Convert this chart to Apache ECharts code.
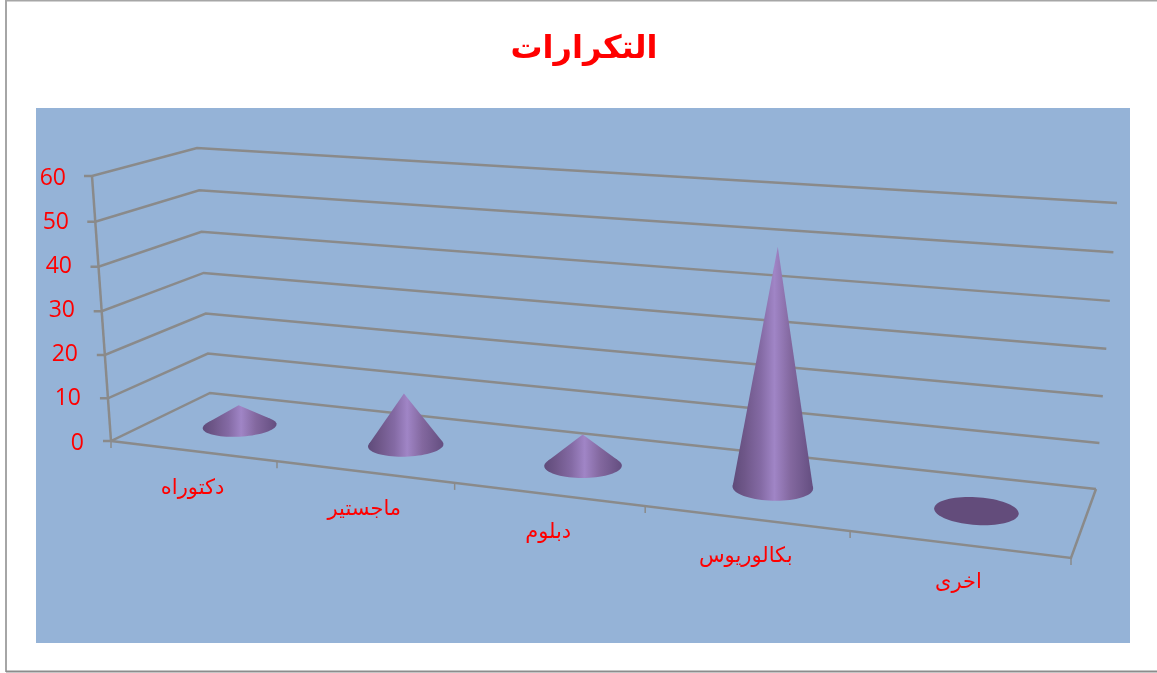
<!DOCTYPE html>
<html>
<head>
<meta charset="utf-8">
<style>html,body{margin:0;padding:0;background:#fff}#chart{width:1157px;height:673px}</style>
<script src="https://cdn.jsdelivr.net/npm/echarts@6/dist/echarts.min.js"></script>
</head>
<body>
<div id="chart"></div>
<script>
// Chart content
const chartTitle = 'التكرارات';
const categories = ['دكتوراه', 'ماجستير', 'دبلوم', 'بكالوريوس', 'اخرى'];
const frequencies = [5, 12, 7, 51, 0];
const valueTicks = [0, 10, 20, 30, 40, 50, 60];

// Scene box: corners of the floor and of the top plane, ordered front-left, front-right, back-right, back-left
const FLOOR = [[111, 441], [1071, 558], [1096, 489], [210, 393]];
const TOP = [[92, 176], [1100, 245], [1117, 203], [197, 148]];
const GRID = { left: 111, top: 176, width: 960, height: 265 };

const RED = '#ff0000';
const LINE = '#8a8a8a';
const ARABIC_FONT = '"DejaVu Sans", sans-serif';
const NUMBER_FONT = '"Open Sans", sans-serif';

// Square-to-quadrilateral homography
function homography(q) {
  const [p0, p1, p2, p3] = q;
  const dx1 = p1[0] - p2[0], dx2 = p3[0] - p2[0], sx = p0[0] - p1[0] + p2[0] - p3[0];
  const dy1 = p1[1] - p2[1], dy2 = p3[1] - p2[1], sy = p0[1] - p1[1] + p2[1] - p3[1];
  const den = dx1 * dy2 - dx2 * dy1;
  const g = (sx * dy2 - dx2 * sy) / den;
  const h = (dx1 * sy - sx * dy1) / den;
  return (u, d) => {
    const w = g * u + h * d + 1;
    return [
      ((p1[0] - p0[0] + g * p1[0]) * u + (p3[0] - p0[0] + h * p3[0]) * d + p0[0]) / w,
      ((p1[1] - p0[1] + g * p1[1]) * u + (p3[1] - p0[1] + h * p3[1]) * d + p0[1]) / w
    ];
  };
}
const floorMap = homography(FLOOR);
const topMap = homography(TOP);

// u: along the categories, d: front to back, v: 0 floor to 1 top.
// The small bends ease the foreshortening along the width and the height of the box.
function project(u, d, v) {
  const uu = u + 0.021 * u * (1 - u);
  const vv = v - 0.04 * v * (1 - v);
  const a = floorMap(uu, d), b = topMap(uu, d);
  return [a[0] + (b[0] - a[0]) * vv, a[1] + (b[1] - a[1]) * vv];
}
// Plain grid position from the axes, expressed as box fractions
function toBox(pt) {
  return {
    u: (pt[0] - GRID.left) / GRID.width,
    v: (GRID.top + GRID.height - pt[1]) / GRID.height
  };
}

function line(points, width) {
  return {
    type: 'polyline',
    shape: { points },
    style: { stroke: LINE, lineWidth: width || 2.5, fill: null }
  };
}

function renderGridLine(params, api) {
  const { v } = toBox(api.coord([0, api.value(0)]));
  const front = project(0, 0, v);
  return {
    type: 'group',
    children: [
      line([[front[0] - 8, front[1]], front, project(0, 1, v), project(1, 1, v)])
    ]
  };
}

function renderFrame(params, api) {
  const children = [
    line([project(0, 0, 1), project(0, 0, 0)]),
    line([project(0, 0, 0), project(1, 0, 0), project(1, 1, 0)])
  ];
  for (let i = 0; i <= categories.length; i++) {
    const p = project(i / categories.length, 0, 0);
    children.push(line([p, [p[0], p[1] + 7]], 1.5));
  }
  return { type: 'group', children };
}

function renderCone(params, api) {
  const { u, v } = toBox(api.coord([api.value(0), api.value(1)]));
  const ring = [];
  for (let i = 0; i < 72; i++) {
    const t = i / 72 * Math.PI * 2;
    ring.push(project(u + 0.0395 * Math.cos(t), 0.48 + 0.2 * Math.sin(t), 0));
  }
  const xs = ring.map(p => p[0]);
  const minX = Math.min(...xs), maxX = Math.max(...xs);
  if (v <= 0) {
    return { type: 'polygon', shape: { points: ring }, style: { fill: '#634C7B' } };
  }
  const fill = new echarts.graphic.LinearGradient(minX, 0, maxX, 0, [
    { offset: 0, color: '#5f4b7a' },
    { offset: 0.15, color: '#6f5789' },
    { offset: 0.35, color: '#846aa4' },
    { offset: 0.52, color: '#a085c6' },
    { offset: 0.72, color: '#83689f' },
    { offset: 1, color: '#644e80' }
  ], true);
  const tip = project(u, 0.48, v);
  // Silhouette: tip joined to the two ring points at the extreme bearings seen from it
  const bearing = p => Math.atan2(p[0] - tip[0], p[1] - tip[1]);
  let left = ring[0], right = ring[0];
  ring.forEach(p => {
    if (bearing(p) < bearing(left)) left = p;
    if (bearing(p) > bearing(right)) right = p;
  });
  return {
    type: 'group',
    children: [
      { type: 'polygon', shape: { points: ring }, style: { fill } },
      { type: 'polygon', shape: { points: [tip, left, right] }, style: { fill } }
    ]
  };
}

function renderCategoryLabel(params, api) {
  const { u } = toBox(api.coord([api.value(0), 0]));
  const p = project(u, 0, 0);
  return {
    type: 'text',
    style: {
      x: p[0],
      y: p[1] + 38,
      text: categories[api.value(0)],
      fill: RED,
      font: '21px ' + ARABIC_FONT,
      align: 'center',
      verticalAlign: 'middle'
    }
  };
}

// The value labels step leftwards with the slanted axis
const labelRich = {};
valueTicks.forEach(t => {
  labelRich['t' + t] = {
    color: RED,
    fontFamily: NUMBER_FONT,
    fontSize: 23,
    padding: [4, t * 0.3, 0, 0]
  };
});

const categoryRows = categories.map((c, i) => [i]);

const option = {
  animation: false,
  backgroundColor: '#ffffff',
  title: {
    text: chartTitle,
    left: 579,
    top: 29,
    textAlign: 'center',
    textStyle: { color: RED, fontFamily: ARABIC_FONT, fontWeight: 'bold', fontSize: 32 }
  },
  graphic: [
    { type: 'rect', z: -10, shape: { x: 36, y: 108, width: 1094, height: 535 }, style: { fill: '#95B3D7' } },
    { type: 'polyline', z: -9, shape: { points: [[6, 672], [6, 0.5], [1157, 0.5]] }, style: { stroke: '#a6a6a6', lineWidth: 2, fill: null } },
    { type: 'line', z: -9, shape: { x1: 6, y1: 671.5, x2: 1157, y2: 671.5 }, style: { stroke: '#8c8c8c', lineWidth: 2 } }
  ],
  grid: GRID,
  xAxis: { type: 'category', data: categories, show: false },
  yAxis: {
    type: 'value',
    min: 0,
    max: 60,
    interval: 10,
    axisLine: { show: false },
    axisTick: { show: false },
    splitLine: { show: false },
    axisLabel: {
      margin: 27,
      formatter: value => `{t${value}|${value}}`,
      rich: labelRich
    }
  },
  series: [
    { type: 'custom', z: 2, data: valueTicks.map(t => [t]), renderItem: renderGridLine, silent: true },
    { type: 'custom', z: 3, data: [[0]], renderItem: renderFrame, silent: true },
    { type: 'custom', z: 4, data: frequencies.map((f, i) => [i, f]), encode: { x: 0, y: 1 }, renderItem: renderCone, silent: true },
    { type: 'custom', z: 5, data: categoryRows, renderItem: renderCategoryLabel, silent: true }
  ]
};

echarts.init(document.getElementById('chart'), null, { renderer: 'canvas' }).setOption(option);
</script>
</body>
</html>
